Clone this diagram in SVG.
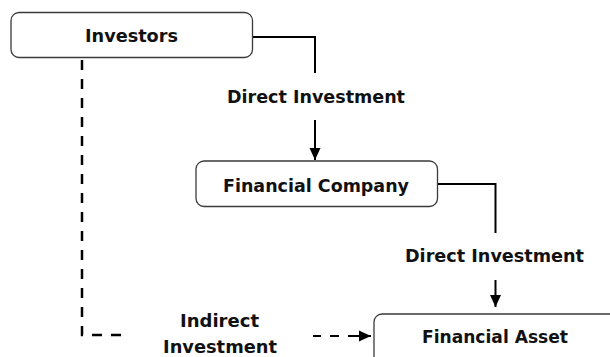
<svg xmlns="http://www.w3.org/2000/svg" width="610" height="357" viewBox="0 0 610 357">
  <defs>
    <style>
      .box { fill: #ffffff; stroke: #3a3a3a; stroke-width: 1.3; }
      .lbl { font-family: "DejaVu Sans", Verdana, sans-serif; font-weight: bold; font-size: 18px; fill: #111111; text-anchor: middle; }
      .wire { fill: none; stroke: #000000; stroke-width: 2; }
      .dash { fill: none; stroke: #000000; stroke-width: 2.5; stroke-dasharray: 10 9; }
    </style>
    <marker id="head" markerUnits="userSpaceOnUse" markerWidth="12" markerHeight="12" viewBox="0 0 12 12" refX="12" refY="6" orient="auto">
      <path d="M0,0.5 L12,6 L0,11.5 Z" fill="#000000"/>
    </marker>
  </defs>
  <rect width="610" height="357" fill="#ffffff"/>

  <g id="connectors">
    <path class="wire" d="M252,37 H315 V73"/>
    <path class="wire" d="M315,120 V160" marker-end="url(#head)"/>
    <path class="wire" d="M438,184 H495.5 V233"/>
    <path class="wire" d="M495.5,280 V307" marker-end="url(#head)"/>
    <path class="dash" d="M82,60 V335 H128"/>
    <path class="wire" d="M313,336 H321 M330,336 H339 M348,336 H371" marker-end="url(#head)"/>
  </g>

  <g id="investors">
    <rect class="box" x="11" y="12.5" width="241.5" height="45" rx="8"/>
    <text class="lbl" x="131.5" y="42" textLength="93" lengthAdjust="spacingAndGlyphs">Investors</text>
  </g>

  <g id="direct-investment-1">
    <text class="lbl" x="316" y="103" textLength="178" lengthAdjust="spacingAndGlyphs">Direct Investment</text>
  </g>

  <g id="financial-company">
    <rect class="box" x="196" y="161" width="241.5" height="45.5" rx="8"/>
    <text class="lbl" x="316" y="191.5" textLength="186" lengthAdjust="spacingAndGlyphs">Financial Company</text>
  </g>

  <g id="direct-investment-2">
    <text class="lbl" x="494.5" y="262" textLength="179" lengthAdjust="spacingAndGlyphs">Direct Investment</text>
  </g>

  <g id="indirect-investment">
    <text class="lbl" x="219.5" y="327" textLength="79" lengthAdjust="spacingAndGlyphs">Indirect</text>
    <text class="lbl" x="220" y="352.5" textLength="114" lengthAdjust="spacingAndGlyphs">Investment</text>
  </g>

  <g id="financial-asset">
    <rect class="box" x="374" y="314" width="250" height="60" rx="8"/>
    <text class="lbl" x="495" y="343" textLength="146" lengthAdjust="spacingAndGlyphs">Financial Asset</text>
  </g>
</svg>
